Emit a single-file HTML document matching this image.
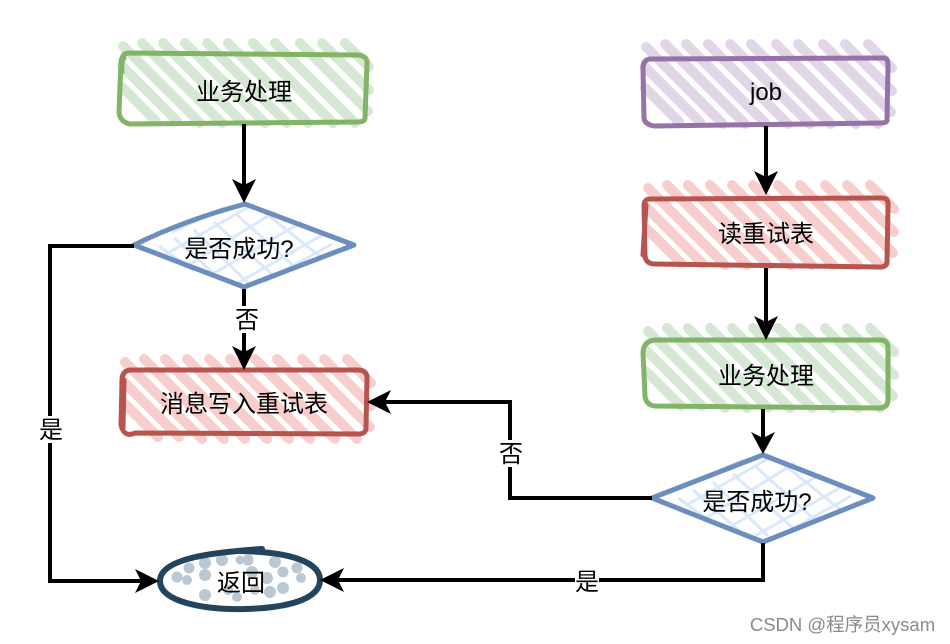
<!DOCTYPE html>
<html>
<head>
<meta charset="utf-8">
<style>
html,body{margin:0;padding:0;background:#fff;width:950px;height:644px;overflow:hidden}
svg{display:block}
text{font-family:"Liberation Sans","Noto Sans CJK SC",sans-serif;font-size:24px;fill:#000;text-anchor:middle}
</style>
</head>
<body>
<svg width="950" height="644" viewBox="0 0 950 644" xmlns="http://www.w3.org/2000/svg">
<defs>
<g id="h" fill="none" stroke-width="10" stroke-linecap="round">
<path d="M2 34L36 68M2 13L57 68M3 -7L80 70M22 -10L102 70M43 -10L123 70M65 -10L145 70M87 -10L167 70M108 -10L188 70M133 -10L213 70M155 -10L235 70M180 -10L248 58M202 -10L249 37M225 -10L249 14"/>
</g>
<g id="x" fill="none" stroke="#dae8fc" stroke-width="3">
<path d="M-85 0L-50 25M-70 -8L-25 32M-50 -16L5 38M-30 -24L32 32M-8 -32L52 22M15 -38L78 12M-72 -14L-20 -38M-78 8L10 -42M-60 22L32 -35M-35 30L58 -24M-8 38L80 -12M20 36L88 -2"/>
</g>
</defs>

<!-- hatches -->
<use href="#h" x="120" y="53" stroke="#d5e8d4"/>
<use href="#h" x="643" y="54" stroke="#e1d5e7"/>
<use href="#h" x="645" y="195" stroke="#f8cecc"/>
<use href="#h" x="645" y="338" stroke="#d5e8d4"/>
<use href="#h" x="122" y="369" stroke="#f8cecc"/>

<!-- box outlines -->
<g fill="none" stroke-width="5" stroke-linejoin="round" stroke-linecap="round">
<path stroke="#82b366" d="M128 53L358 55Q368 56 367 64L365 118Q365 122 357 122L130 124Q120 122 119 112L121 62Q122 54 128 53M124 58Q121 62 122 72"/>
<path stroke="#9673a6" d="M650 59L884 58Q888 58 888 66L887 120Q887 123 880 123L655 126Q645 125 644 118L643 68Q643 60 650 59"/>
<path stroke="#b85450" d="M650 199L882 198Q889 198 888 206L887 262Q887 267 880 267L655 264Q646 264 645 256L644 206Q644 199 650 199M646 205L643 255"/>
<path stroke="#82b366" d="M655 340L880 340Q888 340 888 348L888 400Q888 407 880 408L655 406Q646 405 645 396L643 352Q644 341 655 340"/>
<path stroke="#b85450" d="M130 370L358 370Q367 370 367 378L366 428Q366 434 358 434L135 433Q124 438 121 425L122 380Q122 371 130 370M124 380L123 428"/>
</g>

<!-- diamonds -->
<use href="#x" x="244" y="246"/>
<use href="#x" x="763" y="498"/>
<g fill="none" stroke="#6c8ebf" stroke-width="5" stroke-linejoin="round" stroke-linecap="round">
<path d="M134 245Q185 220 245 204L354 245L244 287L134 245"/>
<path d="M652 498L763 455L873 498L763 542L652 498"/>
</g>

<!-- ellipse -->
<g fill="#bac8d3">
<circle cx="177" cy="577" r="5.5"/><circle cx="189" cy="568" r="5.5"/><circle cx="187" cy="580" r="5"/>
<circle cx="205" cy="563" r="6"/><circle cx="222" cy="560" r="6"/><circle cx="240" cy="560" r="4.5"/>
<circle cx="248" cy="560" r="5.5"/><circle cx="275" cy="562" r="6"/><circle cx="283" cy="572" r="5.5"/>
<circle cx="297" cy="568" r="5.5"/><circle cx="301" cy="578" r="5"/><circle cx="205" cy="575" r="6"/>
<circle cx="205" cy="595" r="6"/><circle cx="228" cy="590" r="5"/><circle cx="252" cy="572" r="6"/>
<circle cx="267" cy="578" r="6"/><circle cx="270" cy="592" r="6"/><circle cx="283" cy="588" r="6"/>
<circle cx="237" cy="597" r="5"/><circle cx="255" cy="590" r="5"/>
</g>
<path fill="none" stroke="#23445d" stroke-width="6" stroke-linecap="round" d="M262 549C215 552 160 558 160 581C160 602 205 610 245 609C285 608 320 600 320 580C320 562 290 552 240 551"/>

<!-- connectors -->
<g fill="none" stroke="#000" stroke-width="4">
<path d="M244 124V190"/>
<path d="M244 289V358"/>
<path d="M134 246H50V581H147"/>
<path d="M766 126V184"/>
<path d="M766 268V328"/>
<path d="M763 409V443"/>
<path d="M652 498H510V402H379"/>
<path d="M763 543V580H332"/>
</g>
<g fill="#000">
<path d="M244 203L232 179L244 185L256 179Z"/>
<path d="M244 370L232 346L244 352L256 346Z"/>
<path d="M159 581L135 569L141 581L135 593Z"/>
<path d="M766 195L754 171L766 177L778 171Z"/>
<path d="M766 340L754 316L766 322L778 316Z"/>
<path d="M763 454L751 432L763 438L775 432Z"/>
<path d="M367 402L391 390L385 402L391 414Z"/>
<path d="M320 580L344 568L338 580L344 592Z"/>
</g>

<!-- label backgrounds -->
<g fill="#fff">
<rect x="234" y="306" width="24" height="27"/>
<rect x="39" y="416" width="24" height="27"/>
<rect x="498" y="440" width="24" height="27"/>
<rect x="575" y="570" width="24" height="22"/>
</g>

<!-- text -->
<text x="244" y="100">业务处理</text>
<text x="766" y="100">job</text>
<text x="766" y="242">读重试表</text>
<text x="766" y="384">业务处理</text>
<text x="244" y="412">消息写入重试表</text>
<text x="239" y="257">是否成功?</text>
<text x="757" y="510">是否成功?</text>
<text x="241" y="591">返回</text>
<text x="247" y="328">否</text>
<text x="51" y="438">是</text>
<text x="511" y="462">否</text>
<text x="587" y="590">是</text>
<text x="842.5" y="631" style="font-size:18.5px;fill:#8a8a8a">CSDN @程序员xysam</text>
</svg>
</body>
</html>
